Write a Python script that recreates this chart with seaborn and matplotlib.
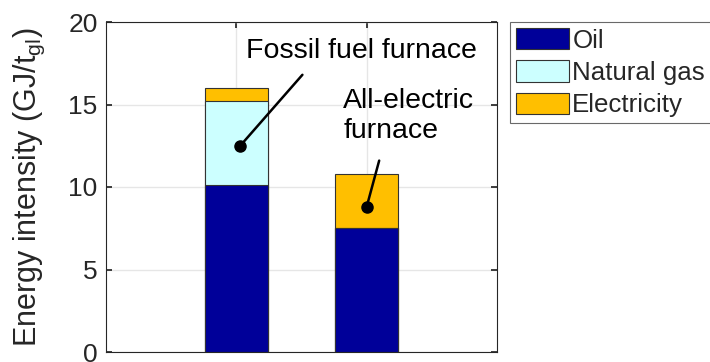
import matplotlib
matplotlib.use("Agg")
import matplotlib.pyplot as plt
import seaborn as sns
import pandas as pd
import numpy as np
from matplotlib.patches import Patch

# Energy intensity by source for two furnace types (GJ per tonne of glass)
furnaces = ["Fossil fuel furnace", "All-electric furnace"]
oil = [10.1, 7.5]
natural_gas = [5.1, 0.0]
electricity = [0.8, 3.3]
sources = ["Oil", "Natural gas", "Electricity"]
colors = ["#000099", "#CCFFFF", "#FFBF00"]
yticks = [0, 5, 10, 15, 20]

sns.set_theme(style="white")
plt.rcParams["font.family"] = ["Liberation Sans", "DejaVu Sans"]
plt.rcParams["mathtext.fontset"] = "custom"
plt.rcParams["mathtext.rm"] = "Liberation Sans"
plt.rcParams["mathtext.it"] = "Liberation Sans:italic"

df = pd.DataFrame({"furnace": furnaces, "Oil": oil,
                   "Natural gas": natural_gas, "Electricity": electricity})
df["c1"] = df["Oil"]
df["c2"] = df["c1"] + df["Natural gas"]
df["c3"] = df["c2"] + df["Electricity"]

fig = plt.figure(figsize=(7.1, 3.62), dpi=100)
ax = fig.add_axes([106 / 710, 1 - 352 / 362, (497 - 106) / 710, (352 - 22) / 362])

# stacked bars: draw cumulative totals from the top segment down
for col, color in zip(["c3", "c2", "c1"], colors[::-1]):
    sns.barplot(data=df, x="furnace", y=col, color=color, width=0.48,
                edgecolor="#333333", linewidth=0.8, saturation=1, ax=ax, zorder=2)

ax.set_xlim(-1, 2)
ax.set_ylim(0, 20)
ax.set_yticks(yticks)
ax.set_xticks([0, 1])
ax.set_xticklabels(["", ""])
ax.set_xlabel("")
ax.set_ylabel(r"Energy intensity (GJ/t$_{\mathrm{gl}}$)", fontsize=22, color="#262626")
ax.yaxis.set_label_coords(-0.15, 0.5)
ax.tick_params(axis="y", labelsize=19, colors="#262626", direction="in", length=4,
               right=True, left=True, pad=6)
ax.tick_params(axis="x", direction="in", length=4, top=True, bottom=True, colors="#262626")
ax.grid(True, color="#E6E6E6", linewidth=1, zorder=0)
ax.set_axisbelow(True)
for s in ax.spines.values():
    s.set_color("#262626")
    s.set_linewidth(0.8)
    s.set_visible(True)

# callouts
ax.plot([0.03], [12.5], "o", color="black", markersize=8, zorder=5)
ax.plot([0.03, 0.507], [12.5, 16.8], color="black", lw=1.8, zorder=5)
ax.text(0.96, 18.25, "Fossil fuel furnace", fontsize=20.5, ha="center", va="center", color="black")

ax.plot([1.0], [8.8], "o", color="black", markersize=8, zorder=5)
ax.plot([1.0, 1.096], [8.8, 11.6], color="black", lw=1.8, zorder=5)
ax.text(0.82, 16.0, "All-electric\nfurnace", fontsize=20.5, ha="left", va="top",
        color="black", linespacing=1.22)

handles = [Patch(facecolor=c, edgecolor="#333333", linewidth=0.8) for c in colors]
leg = fig.legend(handles, sources, loc="upper left",
                 bbox_to_anchor=(510 / 710, 1 - 22 / 362), bbox_transform=fig.transFigure,
                 fontsize=18.6, frameon=True, fancybox=False, edgecolor="#444444",
                 handlelength=2.05, handleheight=0.88, handletextpad=0.12,
                 labelspacing=0.30, borderpad=0.24, borderaxespad=0)
leg.get_frame().set_linewidth(0.8)

fig.savefig("out.png", dpi=100)
